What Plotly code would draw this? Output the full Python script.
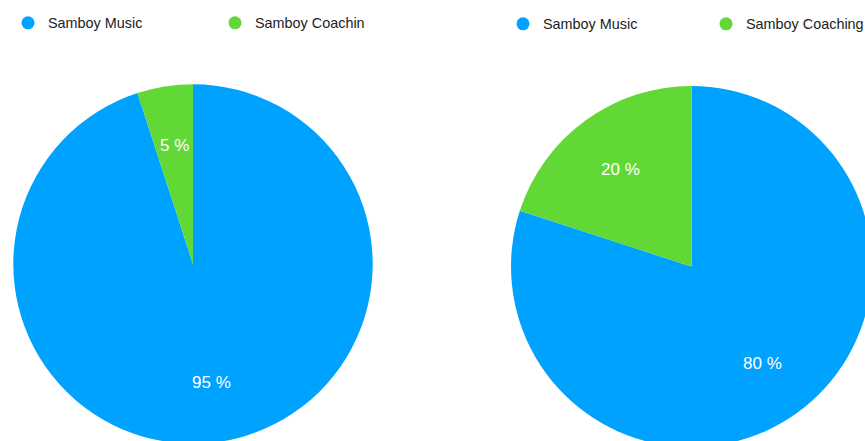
import math
import plotly.graph_objects as go

# ---- data ----
categories = ["Samboy Music", "Samboy Coaching"]
left_values = [95, 5]
right_values = [80, 20]
left_legend_labels = ["Samboy Music", "Samboy Coachin"]
right_legend_labels = ["Samboy Music", "Samboy Coaching"]
colors = ["#00A2FF", "#61D836"]

FONT = "Liberation Sans, Arial, Helvetica, sans-serif"
W, H = 880, 460

left_domain = dict(x=[13.3 / W, 372.7 / W], y=[1 - 444 / H, 1 - 84 / H])
right_domain = dict(x=[511 / W, 872 / W], y=[1 - 447 / H, 1 - 86 / H])


def pct_text(vals):
    s = sum(vals)
    return [f"{round(v / s * 100)} %" for v in vals]


def label_annotations(vals, domain, frac=2 / 3):
    """Place percentage labels along each slice bisector (clockwise from 12 o'clock)."""
    x0, x1 = domain["x"]
    y0, y1 = domain["y"]
    cx = (x0 + x1) / 2 * W
    cy = (y0 + y1) / 2 * H
    r = min((x1 - x0) * W, (y1 - y0) * H) / 2
    total = sum(vals)
    anns = []
    cum = 0
    for v, t in zip(vals, pct_text(vals)):
        mid = (cum + v / 2) / total * 2 * math.pi
        cum += v
        px = cx + frac * r * math.sin(mid)
        py = cy + frac * r * math.cos(mid)
        anns.append(dict(x=px / W, y=py / H, xref="paper", yref="paper",
                         xanchor="center", yanchor="middle",
                         text=t, showarrow=False,
                         font=dict(color="white", size=17, family=FONT)))
    return anns


fig = go.Figure()

for vals, dom in ((left_values, left_domain), (right_values, right_domain)):
    fig.add_trace(go.Pie(
        labels=categories, values=vals,
        textinfo="none",
        sort=False, direction="clockwise", rotation=0,
        marker=dict(colors=colors, line=dict(width=0)),
        domain=dom, showlegend=False, hoverinfo="label+percent",
    ))

# legend-only marker traces (circle symbols), one legend per entry
legend_ids = ["legend", "legend2", "legend3", "legend4"]
legend_names = left_legend_labels + right_legend_labels
legend_colors = colors + colors
for lid, name, c in zip(legend_ids, legend_names, legend_colors):
    fig.add_trace(go.Scatter(x=[None], y=[None], mode="markers", name=name,
                             marker=dict(color=c, size=13, symbol="circle"),
                             legend=lid, hoverinfo="skip"))

legend_common = dict(orientation="h", xanchor="left", yanchor="top",
                     font=dict(family=FONT, size=14.4, color="#222222"),
                     bgcolor="rgba(0,0,0,0)", borderwidth=0)

legend_x_px = [8, 215, 503, 706]
legend_y_px = [7, 7, 8, 8]

layout_legends = {}
for lid, lx, ly in zip(legend_ids, legend_x_px, legend_y_px):
    layout_legends[lid] = dict(x=lx / W, y=1 - ly / H, **legend_common)

fig.update_layout(
    width=W, height=H,
    margin=dict(l=0, r=0, t=0, b=0, autoexpand=False),
    paper_bgcolor="white", plot_bgcolor="white",
    xaxis=dict(visible=False), yaxis=dict(visible=False),
    annotations=label_annotations(left_values, left_domain)
    + label_annotations(right_values, right_domain),
    font=dict(family=FONT),
    **layout_legends,
)

fig.write_html(
    "out.html",
    config={"displayModeBar": False},
    post_script="document.body.style.margin='0';document.body.style.overflow='hidden';"
                "document.documentElement.style.overflow='hidden';",
)
